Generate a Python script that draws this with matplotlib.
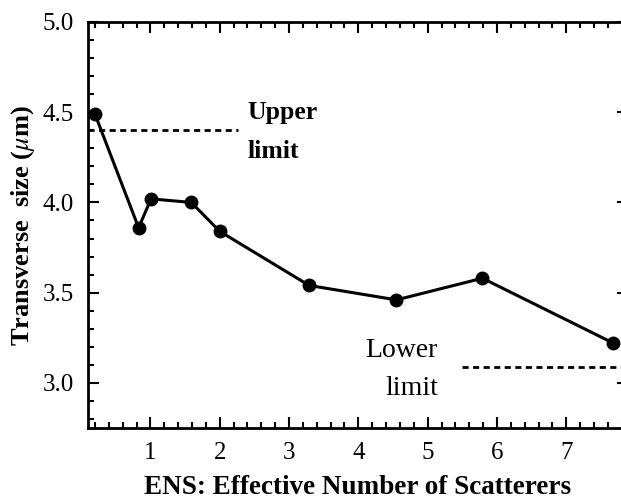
import matplotlib
matplotlib.use("Agg")
import matplotlib.pyplot as plt
from matplotlib.ticker import MultipleLocator

# data
ens = [0.2, 0.83, 1.01, 1.59, 2.0, 3.29, 4.55, 5.79, 7.68]
size_um = [4.49, 3.86, 4.02, 4.0, 3.84, 3.54, 3.46, 3.58, 3.22]

upper_limit = 4.4
upper_span = [0.1, 2.27]
lower_limit = 3.09
lower_span = [5.5, 7.8]

plt.rcParams["font.family"] = ["Liberation Serif", "DejaVu Serif"]
plt.rcParams["mathtext.fontset"] = "stix"

fig = plt.figure(figsize=(6.21, 5.0), dpi=100)
ax = fig.add_axes([88 / 621, 72 / 500, 540 / 621, 406 / 500])

ax.plot(ens, size_um, color="black", linewidth=2.2, marker="o", markersize=9)
ax.plot(upper_span, [upper_limit, upper_limit], color="black", linestyle=(0, (2.2, 1.6)), linewidth=2)
ax.plot(lower_span, [lower_limit, lower_limit], color="black", linestyle=(0, (2.2, 1.6)), linewidth=2)

ax.text(2.4, 4.5, "Upper", fontsize=18.5, fontweight="bold", ha="left", va="center")
ax.text(2.4, 4.28, "limit", fontsize=18.5, fontweight="bold", ha="left", va="center")
ax.text(5.15, 3.18, "Lower", fontsize=20, ha="right", va="center")
ax.text(5.15, 2.97, "limit", fontsize=20, ha="right", va="center")

ax.set_xlim(0.1, 7.89)
ax.set_ylim(2.75, 5.0)
ax.xaxis.set_major_locator(MultipleLocator(1))
ax.xaxis.set_minor_locator(MultipleLocator(0.2))
ax.yaxis.set_major_locator(MultipleLocator(0.5))
ax.yaxis.set_minor_locator(MultipleLocator(0.1))
ax.set_yticks([3.0, 3.5, 4.0, 4.5, 5.0])
ax.set_yticklabels(["3.0", "3.5", "4.0", "4.5", "5.0"])
ax.tick_params(which="both", direction="in", top=True, right=True, labelsize=18, width=1.5)
ax.tick_params(which="major", length=8, pad=10)
ax.tick_params(which="minor", length=4)
for s in ax.spines.values():
    s.set_linewidth(2)

ax.set_xlabel("ENS: Effective Number of Scatterers", fontsize=19.5, fontweight="bold", labelpad=8)
ax.set_ylabel(r"Transverse  size ($\mu$m)", fontsize=19, fontweight="bold", labelpad=4)

fig.savefig("out.png", dpi=100)
